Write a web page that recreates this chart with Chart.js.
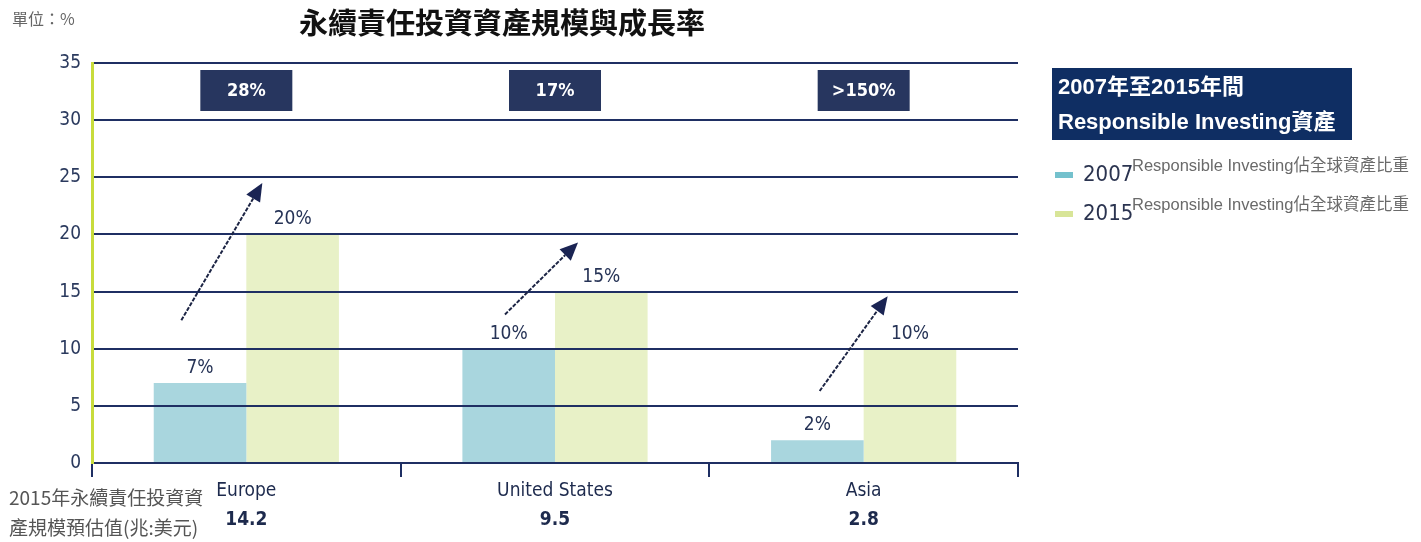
<!DOCTYPE html>
<html>
<head>
<meta charset="utf-8">
<script src="https://cdn.jsdelivr.net/npm/chart.js@4/dist/chart.umd.min.js"></script>
<style>
  html, body { margin: 0; padding: 0; background: #ffffff; }
  #wrap { width: 1421px; height: 542px; position: relative; }
</style>
</head>
<body>
<div id="wrap"><canvas id="c" width="1421" height="542"></canvas></div>
<script>
// ---- data ----
const categories = ['Europe', 'United States', 'Asia'];
const share2007 = [7, 10, 2];
const share2015 = [20, 15, 10];
const growthLabels = ['28%', '17%', '>150%'];
const assets2015 = ['14.2', '9.5', '2.8'];
const seriesNames = ['2007', '2015'];
const seriesNote = 'Responsible Investing佔全球資產比重';
const chartTitle = '永續責任投資資產規模與成長率';
const unitText = '單位：%';
const assetsNote = ['2015年永續責任投資資', '產規模預估值(兆:美元)'];
const legendHeader = ['2007年至2015年間', 'Responsible Investing資產'];

const NAVY = '#1f2f63';
const BOX = '#27365f';
const COND = '"Liberation Sans Narrow", "DejaVu Sans Condensed", "Roboto Condensed", sans-serif';
const CJK = '"Noto Sans CJK TC", "Noto Sans CJK SC", sans-serif';
const BAR_BLUE = '#a9d6de';
const BAR_GREEN = '#e8f1c7';
const SW_BLUE = '#74c1cd';
const SW_GREEN = '#d8e598';

function drawArrow(ctx, x0, y0, x1, y1) {
  const ang = Math.atan2(y1 - y0, x1 - x0);
  const head = 18, hw = 8;
  const bx = x1 - head * Math.cos(ang), by = y1 - head * Math.sin(ang);
  ctx.save();
  ctx.strokeStyle = '#1c2444';
  ctx.lineWidth = 2;
  ctx.setLineDash([4, 1.5]);
  ctx.beginPath();
  ctx.moveTo(x0, y0);
  ctx.lineTo(bx, by);
  ctx.stroke();
  ctx.setLineDash([]);
  ctx.fillStyle = '#1a2453';
  ctx.beginPath();
  ctx.moveTo(x1, y1);
  ctx.lineTo(bx + hw * Math.sin(ang), by - hw * Math.cos(ang));
  ctx.lineTo(bx - hw * Math.sin(ang), by + hw * Math.cos(ang));
  ctx.closePath();
  ctx.fill();
  ctx.restore();
}

const annotate = {
  id: 'annotate',
  afterDraw(chart, args, opts) {
    const ctx = chart.ctx;
    const x = chart.scales.x, y = chart.scales.y;
    const area = chart.chartArea;
    ctx.save();
    // value labels
    ctx.font = '19px ' + COND;
    ctx.fillStyle = '#263356';
    ctx.textAlign = 'center';
    ctx.textBaseline = 'middle';
    chart.data.datasets.forEach((ds, di) => {
      const meta = chart.getDatasetMeta(di);
      meta.data.forEach((bar, i) => {
        ctx.fillText(ds.data[i] + '%', bar.x, bar.y - 15);
      });
    });
    // growth boxes
    categories.forEach((c, i) => {
      const cx = x.getPixelForValue(i);
      const top = area.top + 7, h = 41, w = 92;
      ctx.fillStyle = BOX;
      ctx.fillRect(cx - w / 2, top, w, h);
      ctx.fillStyle = '#ffffff';
      ctx.font = 'bold 18px ' + COND;
      ctx.fillText(growthLabels[i], cx, top + h / 2 + 1);
    });
    // arrows (offsets relative to category centre, in value units vertically)
    opts.arrows.forEach((a, i) => {
      const cx = x.getPixelForValue(i);
      drawArrow(ctx, cx + a.dx0, y.getPixelForValue(a.v0), cx + a.dx1, y.getPixelForValue(a.v1));
    });

    // title
    ctx.fillStyle = '#111111';
    ctx.font = 'bold 29px ' + CJK;
    ctx.textAlign = 'center';
    ctx.textBaseline = 'middle';
    ctx.fillText(chartTitle, 502, 23);
    // unit
    ctx.fillStyle = '#666666';
    ctx.font = '16px ' + CJK;
    ctx.textAlign = 'left';
    ctx.fillText(unitText, 12, 19);
    // totals under category labels
    ctx.fillStyle = '#1d2a4d';
    ctx.font = 'bold 19px ' + COND;
    ctx.textAlign = 'center';
    categories.forEach((c, i) => {
      ctx.fillText(assets2015[i], x.getPixelForValue(i), 520);
    });
    // left note
    ctx.fillStyle = '#555555';
    ctx.font = '19px ' + CJK;
    ctx.textAlign = 'left';
    ctx.fillText(assetsNote[0], 9, 498);
    ctx.fillText(assetsNote[1], 9, 528);
    // legend header box
    ctx.fillStyle = '#0f2e63';
    ctx.fillRect(1052, 68, 300, 72);
    ctx.fillStyle = '#ffffff';
    ctx.font = 'bold 22px "Liberation Sans", Arial, ' + CJK;
    ctx.fillText(legendHeader[0], 1058, 88);
    ctx.fillText(legendHeader[1], 1058, 123);
    // legend items
    const swatches = [SW_BLUE, SW_GREEN];
    seriesNames.forEach((s, i) => {
      const yy = 175 + i * 39;
      ctx.fillStyle = swatches[i];
      ctx.fillRect(1055, yy - 3, 18, 6);
      ctx.fillStyle = '#2b3450';
      ctx.font = '22px ' + COND;
      ctx.fillText(s, 1083, yy);
      ctx.fillStyle = '#6a6a6a';
      ctx.font = '16.5px "Liberation Sans", Arial, ' + CJK;
      ctx.fillText(seriesNote, 1132, yy - 9);
    });
    ctx.restore();
  }
};

new Chart(document.getElementById('c'), {
  type: 'bar',
  data: {
    labels: categories,
    datasets: [
      { label: seriesNames[0], data: share2007, backgroundColor: BAR_BLUE, borderWidth: 0 },
      { label: seriesNames[1], data: share2015, backgroundColor: BAR_GREEN, borderWidth: 0 }
    ]
  },
  options: {
    responsive: false,
    animation: false,
    devicePixelRatio: 1,
    layout: { padding: { top: 63, right: 403, left: 0, bottom: 0 } },
    datasets: { bar: { categoryPercentage: 0.6, barPercentage: 1.0 } },
    plugins: {
      legend: { display: false },
      tooltip: { enabled: false },
      annotate: {
        arrows: [
          { dx0: -65, v0: 12.5, dx1: 16, v1: 24.5 },
          { dx0: -50, v0: 13.0, dx1: 23, v1: 19.3 },
          { dx0: -44, v0: 6.3, dx1: 24, v1: 14.6 }
        ]
      }
    },
    scales: {
      x: {
        offset: true,
        grid: { display: true, drawOnChartArea: false, drawTicks: true, tickLength: 14, color: NAVY, lineWidth: 2, offset: true, z: 1 },
        border: { display: true, color: NAVY, width: 2, z: 1 },
        ticks: { color: '#1d2a4d', font: { family: COND, size: 19 }, padding: 3 },
        afterFit(s) { s.height = 79; }
      },
      y: {
        min: 0, max: 35,
        ticks: { stepSize: 5, color: '#2b3a5e', font: { family: COND, size: 19 }, padding: 11 },
        grid: { color: NAVY, lineWidth: 2, drawTicks: false, z: 1 },
        border: { display: true, color: '#c8dc3c', width: 3, z: 2 },
        afterFit(s) { s.width = 92; }
      }
    }
  },
  plugins: [annotate]
});
</script>
</body>
</html>
